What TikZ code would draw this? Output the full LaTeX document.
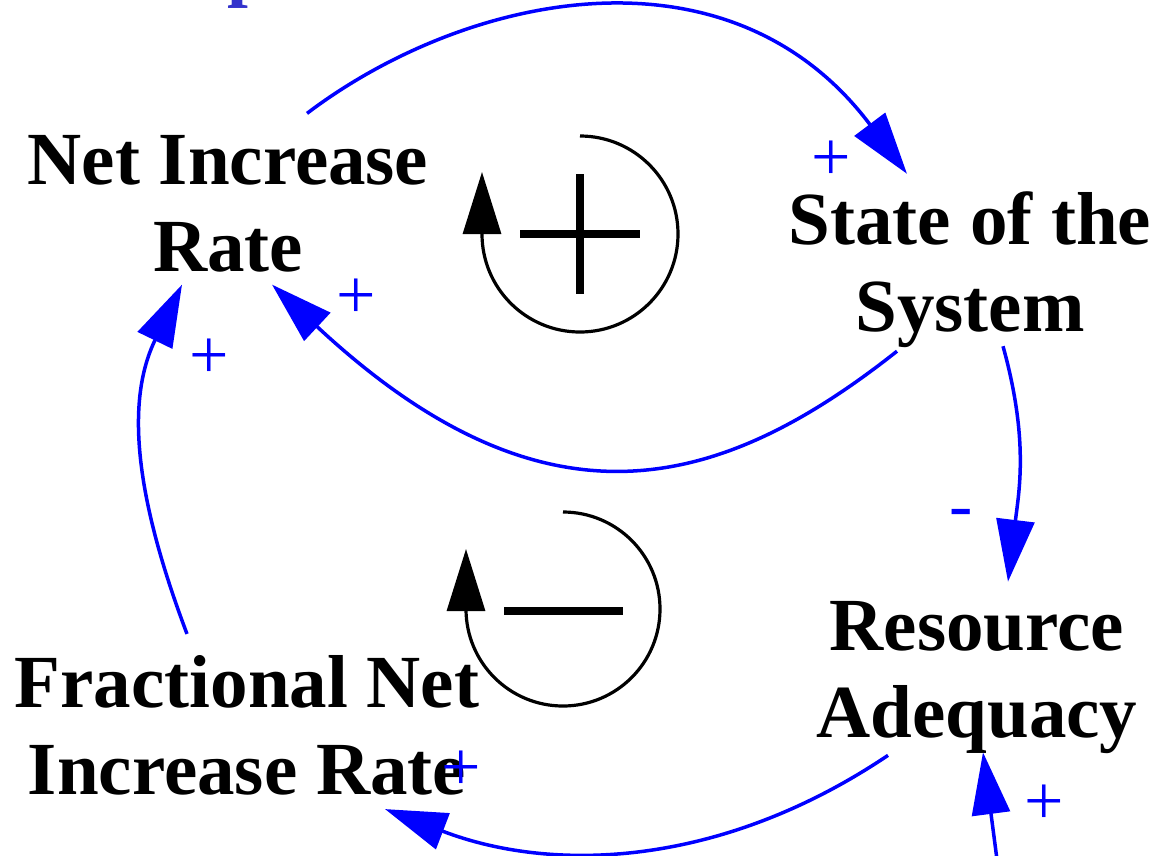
\documentclass[tikz,border=0pt]{standalone}
\usepackage{fontspec}
\setmainfont{Liberation Serif}
\usepackage{xcolor}
\usepackage{tikz}
\usetikzlibrary{arrows.meta}
\definecolor{titleblue}{RGB}{51,51,204}

\begin{document}
\begin{tikzpicture}[x=1pt,y=-1pt,>={Triangle[length=62pt,width=38pt]},
  varnode/.style={align=center,inner sep=0pt,font=\bfseries\fontsize{75}{87}\selectfont},
  causal/.style={->,blue,line width=3.5pt},
  polarity/.style={blue,inner sep=0pt,font=\fontsize{70}{70}\selectfont},
  looparc/.style={->,black,line width=3.2pt}]
  \useasboundingbox (0,0) rectangle (1160,855);
  \clip (0,0) rectangle (1160,855);
  % variables
  \node[varnode] (net) at (228,204) {Net Increase\\Rate};
  \node[varnode] (state) at (970,270) {State of the\\System};
  \node[varnode] (res) at (977,678) {Resource\\Adequacy};
  \node[varnode] (frac) at (247,725) {Fractional Net\\Increase Rate};
  \node[anchor=base west,inner sep=0pt,text=titleblue,font=\bfseries\fontsize{75}{87}\selectfont] (title) at (227,-8) {p};
  \coordinate (outside) at (999,875);
  % causal links
  \draw[causal] ([shift={(79,-22)}]net.north) .. controls (466,-7) and (729,-63) .. ([shift={(-63,-18)}]state.north);
  \draw[causal] ([shift={(-73,3)}]state.south) .. controls (719,492) and (545,539) .. ([shift={(44,12)}]net.south);
  \draw[causal] ([shift={(33,-2)}]state.south) .. controls (1029,440) and (1019,491) .. ([shift={(31,-20)}]res.north);
  \draw[causal] ([shift={(-89,1)}]res.south) .. controls (725,865) and (557,875) .. ([shift={(138,14)}]frac.south);
  \draw[causal] ([shift={(-60,-21)}]frac.north) .. controls (141,512) and (122,408) .. ([shift={(-46,12)}]net.south);
  \draw[causal] (outside) -- ([shift={(6,-2)}]res.south);
  % polarities
  \node[polarity] (p1) at (831,161) {+};
  \node[polarity] (p2) at (356,299) {+};
  \node[polarity] (p3) at (209,359) {+};
  \node[polarity] (p4) at (961,519) {-};
  \node[polarity] (p5) at (461,771) {+};
  \node[polarity] (p6) at (1044,805) {+};
  % loop markers
  \draw[looparc] (580,136) arc[start angle=-90,end angle=180,radius=98] -- ++(0,-62);
  \draw[line width=8pt] (520,234) -- (640,234) (580,174) -- (580,294);
  \draw[looparc] (563,512) arc[start angle=-90,end angle=180,radius=97] -- ++(0,-60);
  \draw[line width=8pt] (504,611) -- (623,611);
\end{tikzpicture}
\end{document}
